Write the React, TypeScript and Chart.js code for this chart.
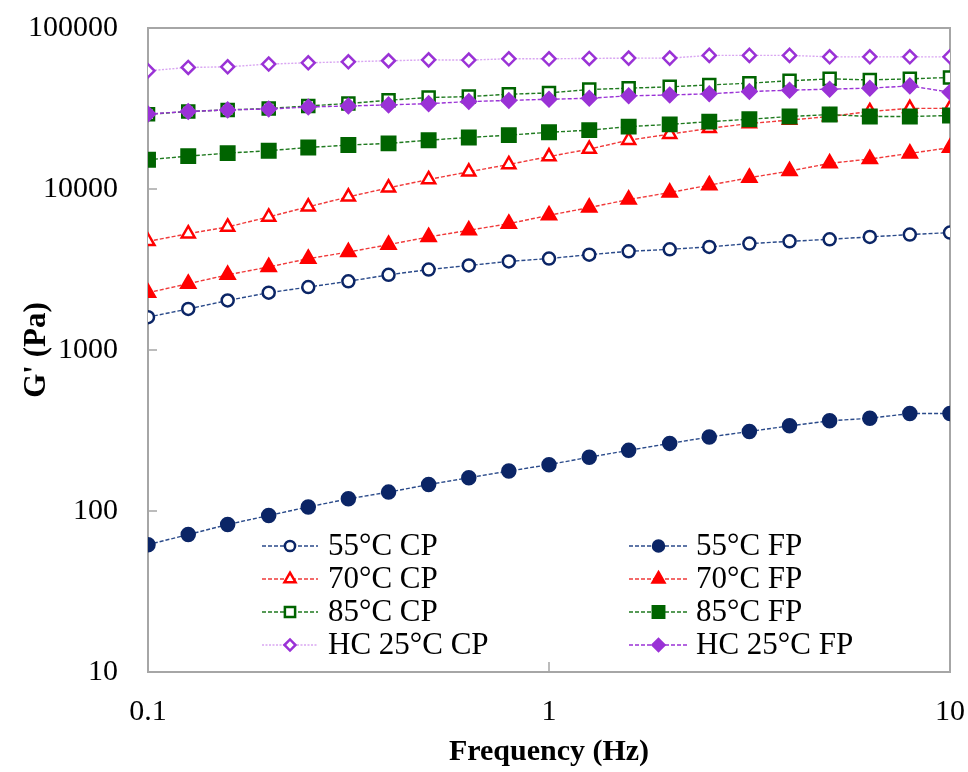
import React, { useEffect, useRef } from 'react';
import { Chart, registerables } from 'chart.js';
import { drawPoint } from 'chart.js/helpers';

Chart.register(...registerables);

const FONT = '"Liberation Serif", "Times New Roman", serif';

const frequency = [0.1, 0.126, 0.158, 0.2, 0.251, 0.316, 0.398, 0.501, 0.631, 0.794, 1, 1.26, 1.58, 2, 2.51, 3.16, 3.98, 5.01, 6.31, 7.94, 10];

const g55CP = [1600, 1800, 2030, 2270, 2460, 2670, 2930, 3160, 3350, 3550, 3700, 3910, 4100, 4220, 4370, 4580, 4730, 4870, 5040, 5210, 5360];
const g55FP = [61.8, 71.4, 82.4, 93.8, 106, 119, 131, 146, 161, 177, 194, 216, 238, 263, 288, 312, 338, 363, 377, 403, 403];
const g70CP = [4730, 5280, 5810, 6710, 7750, 8940, 10170, 11460, 12790, 14210, 15900, 17700, 20100, 21900, 23800, 25500, 26800, 28200, 30300, 31700, 31700];
const g70FP = [2270, 2580, 2930, 3280, 3690, 4060, 4510, 5040, 5540, 6090, 6870, 7670, 8600, 9510, 10560, 11750, 12920, 14430, 15350, 16640, 18060];
const g85CP = [29100, 30300, 31000, 31600, 32800, 33950, 35600, 37000, 37500, 38800, 39500, 41500, 42300, 43100, 44300, 45400, 47000, 48300, 47600, 48300, 49300];
const g85FP = [15200, 16000, 16700, 17300, 18100, 18750, 19200, 20100, 20900, 21600, 22500, 23200, 24400, 25200, 26200, 27100, 28200, 29000, 28200, 28200, 28600];
const gHCCP = [54200, 56900, 57400, 59700, 60800, 61700, 62600, 63400, 63200, 64400, 64400, 64700, 65000, 65000, 67600, 67600, 67600, 66200, 66200, 66200, 66200];
const gHCFP = [29200, 30300, 31000, 31400, 32300, 32800, 33300, 33900, 34900, 35500, 36100, 36600, 37900, 38400, 39000, 40300, 41100, 41700, 42300, 43700, 39900];

const yTickValues = [10, 100, 1000, 10000, 100000];
const xTickValues = [0.1, 1, 10];

const NAVY = '#0B2566';
const RED = '#FF0000';
const GREEN = '#006400';
const PURPLE = '#9A32D6';

type Series = {
  label: string;
  values: number[];
  color: string;
  lineColor: string;
  pointStyle: string;
  filled: boolean;
  radius: number;
  dash: number[];
  col: number;
  row: number;
};

const series: Series[] = [
  { label: 'HC 25°C FP', values: gHCFP, color: PURPLE, lineColor: '#9A32D6', pointStyle: 'rectRot', filled: true, radius: 7, dash: [4, 2], col: 1, row: 3 },
  { label: '85°C FP', values: g85FP, color: GREEN, lineColor: '#1F7A1F', pointStyle: 'rect', filled: true, radius: 9.5, dash: [4, 2], col: 1, row: 2 },
  { label: '70°C FP', values: g70FP, color: RED, lineColor: '#F03A3A', pointStyle: 'triangle', filled: true, radius: 8, dash: [4, 2], col: 1, row: 1 },
  { label: '55°C FP', values: g55FP, color: NAVY, lineColor: '#2A4A8A', pointStyle: 'circle', filled: true, radius: 6.5, dash: [4, 2], col: 1, row: 0 },
  { label: 'HC 25°C CP', values: gHCCP, color: PURPLE, lineColor: '#D9A6F2', pointStyle: 'rectRot', filled: false, radius: 6.5, dash: [2, 1.5], col: 0, row: 3 },
  { label: '85°C CP', values: g85CP, color: GREEN, lineColor: '#1F7A1F', pointStyle: 'rect', filled: false, radius: 8.5, dash: [4, 2], col: 0, row: 2 },
  { label: '70°C CP', values: g70CP, color: RED, lineColor: '#F03A3A', pointStyle: 'triangle', filled: false, radius: 7.5, dash: [4, 2], col: 0, row: 1 },
  { label: '55°C CP', values: g55CP, color: NAVY, lineColor: '#2A4A8A', pointStyle: 'circle', filled: false, radius: 6, dash: [4, 2], col: 0, row: 0 },
];

const AXIS_GRAY = '#A6A6A6';

const framePlugin = {
  id: 'frameAndTicks',
  beforeDatasetsDraw(chart: any) {
    const { ctx, chartArea, scales } = chart;
    ctx.save();
    ctx.strokeStyle = AXIS_GRAY;
    ctx.lineWidth = 2;
    ctx.beginPath();
    ctx.moveTo(chartArea.left, chartArea.top);
    ctx.lineTo(chartArea.right, chartArea.top);
    ctx.lineTo(chartArea.right, chartArea.bottom);
    ctx.stroke();
    ctx.lineWidth = 1.5;
    ctx.beginPath();
    yTickValues.forEach((v) => {
      const y = scales.y.getPixelForValue(v);
      ctx.moveTo(chartArea.left, y);
      ctx.lineTo(chartArea.left + 9, y);
    });
    xTickValues.forEach((v) => {
      const x = scales.x.getPixelForValue(v);
      ctx.moveTo(x, chartArea.bottom);
      ctx.lineTo(x, chartArea.bottom - 10);
    });
    ctx.stroke();
    ctx.restore();
  },
};

const legendPlugin = {
  id: 'innerLegend',
  afterDraw(chart: any) {
    const { ctx } = chart;
    const cols = [
      { x0: 262, x1: 318, tx: 328 },
      { x0: 629, x1: 688, tx: 696 },
    ];
    const rows = [546, 579, 612, 645];
    ctx.save();
    series.forEach((s) => {
      const c = cols[s.col];
      const y = rows[s.row];
      ctx.strokeStyle = s.lineColor;
      ctx.lineWidth = 1.3;
      ctx.setLineDash(s.dash);
      ctx.beginPath();
      ctx.moveTo(c.x0, y);
      ctx.lineTo(c.x1, y);
      ctx.stroke();
      ctx.setLineDash([]);
      ctx.fillStyle = s.filled ? s.color : '#ffffff';
      ctx.strokeStyle = s.color;
      ctx.lineWidth = 2.5;
      drawPoint(ctx, { pointStyle: s.pointStyle, radius: s.radius * 0.85, borderWidth: 2.5, rotation: 0 } as any, (c.x0 + c.x1) / 2, y);
      ctx.fillStyle = '#000';
      ctx.font = `31px ${FONT}`;
      ctx.textAlign = 'left';
      ctx.textBaseline = 'middle';
      ctx.fillText(s.label, c.tx, y + 1);
    });
    ctx.restore();
  },
};

export default function App() {
  const ref = useRef<HTMLCanvasElement | null>(null);

  useEffect(() => {
    if (!ref.current) return;
    const chart = new Chart(ref.current, {
      type: 'line',
      data: {
        datasets: series.map((s) => ({
          label: s.label,
          data: frequency.map((f, i) => ({ x: f, y: s.values[i] })),
          borderColor: s.lineColor,
          borderWidth: 1.4,
          borderDash: s.dash,
          pointStyle: s.pointStyle as any,
          pointRadius: s.radius,
          pointBorderWidth: 2.5,
          pointBorderColor: s.color,
          pointBackgroundColor: s.filled ? s.color : '#ffffff',
          fill: false,
          tension: 0,
        })),
      },
      options: {
        responsive: false,
        animation: false,
        events: [],
        layout: { padding: { top: 28, right: 18, left: 0, bottom: 0 } },
        plugins: { legend: { display: false }, tooltip: { enabled: false } },
        scales: {
          x: {
            type: 'logarithmic',
            min: 0.1,
            max: 10,
            afterBuildTicks: (s: any) => {
              s.ticks = xTickValues.map((v) => ({ value: v }));
            },
            afterFit: (s: any) => {
              s.height = 100;
              s.paddingLeft = 0;
              s.paddingRight = 0;
            },
            grid: { display: false, drawTicks: false },
            border: { display: true, color: AXIS_GRAY, width: 2 },
            ticks: {
              autoSkip: false,
              maxRotation: 0,
              color: '#000',
              padding: 22,
              font: { family: FONT, size: 30 },
              callback: (v: any) => String(v),
            },
            title: {
              display: true,
              text: 'Frequency (Hz)',
              color: '#000',
              font: { family: FONT, size: 30, weight: 'bold' },
              padding: { top: 0, bottom: 2 },
            },
          },
          y: {
            type: 'logarithmic',
            min: 10,
            max: 100000,
            afterBuildTicks: (s: any) => {
              s.ticks = yTickValues.map((v) => ({ value: v }));
            },
            afterFit: (s: any) => {
              s.width = 148;
              s.paddingTop = 0;
              s.paddingBottom = 0;
            },
            grid: { display: false, drawTicks: false },
            border: { display: true, color: AXIS_GRAY, width: 2 },
            ticks: {
              autoSkip: false,
              color: '#000',
              padding: 30,
              font: { family: FONT, size: 30 },
              callback: (v: any) => String(v),
            },
            title: {
              display: true,
              text: "G' (Pa)",
              color: '#000',
              font: { family: FONT, size: 31, weight: 'bold' },
              padding: { top: 18, bottom: 0 },
            },
          },
        },
      },
      plugins: [framePlugin, legendPlugin],
    });
    return () => chart.destroy();
  }, []);

  return (
    <div style={{ position: 'absolute', left: 0, top: 0, width: 968, height: 772, background: '#fff' }}>
      <canvas ref={ref} width={968} height={772} style={{ display: 'block' }} />
    </div>
  );
}
